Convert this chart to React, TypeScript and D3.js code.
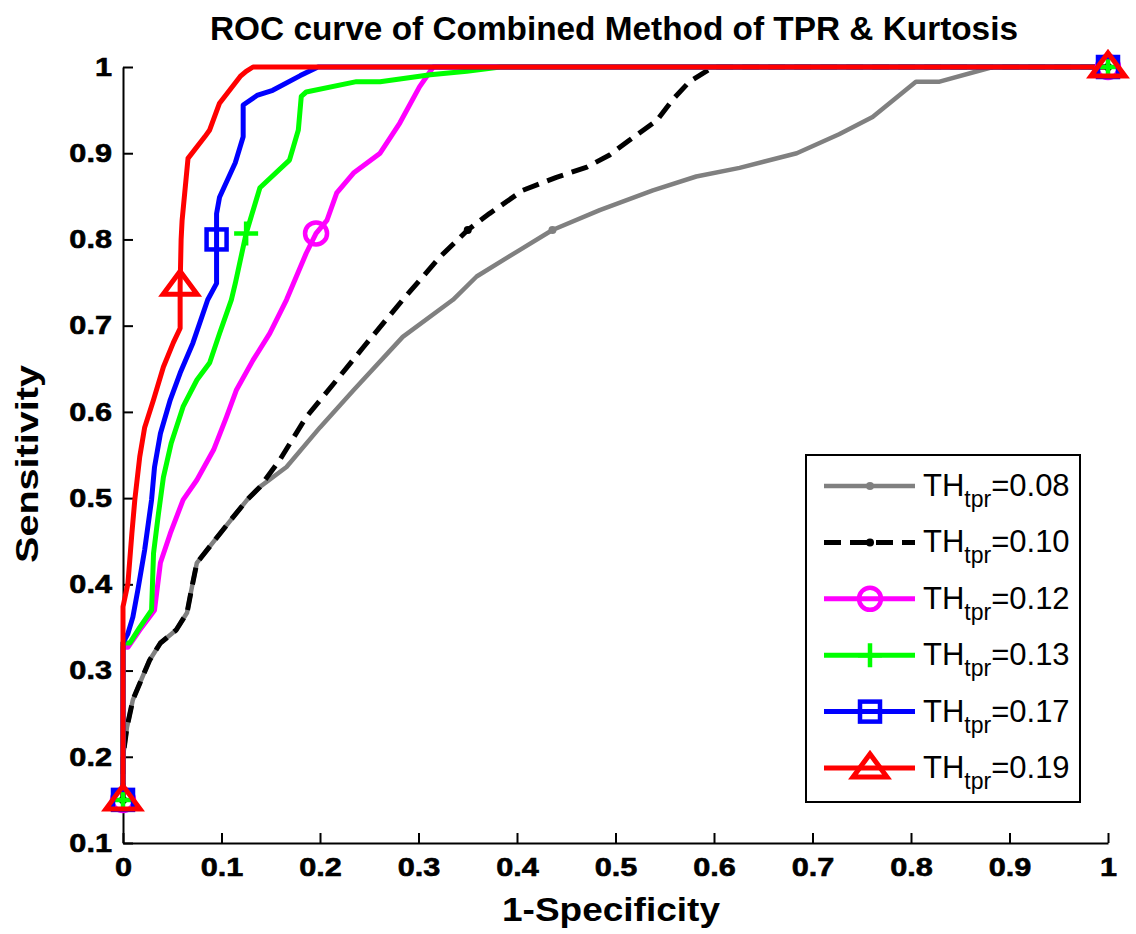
import React, { useEffect, useRef } from 'react';
import * as d3 from 'd3';

// chart data
const xTicks = [0, 0.1, 0.2, 0.3, 0.4, 0.5, 0.6, 0.7, 0.8, 0.9, 1];
const xTickLabels = ['0', '0.1', '0.2', '0.3', '0.4', '0.5', '0.6', '0.7', '0.8', '0.9', '1'];
const yTicks = [0.1, 0.2, 0.3, 0.4, 0.5, 0.6, 0.7, 0.8, 0.9, 1];
const yTickLabels = ['0.1', '0.2', '0.3', '0.4', '0.5', '0.6', '0.7', '0.8', '0.9', '1'];

const thresholds = ['0.08', '0.10', '0.12', '0.13', '0.17', '0.19'];

type Pt = [number, number];

const roc008: Pt[] = [
  [0, 0.15], [0, 0.2], [0.004, 0.234], [0.01, 0.266], [0.017, 0.285], [0.027, 0.312],
  [0.038, 0.332], [0.054, 0.347], [0.065, 0.367], [0.07, 0.397], [0.075, 0.425],
  [0.091, 0.448], [0.109, 0.474], [0.126, 0.498], [0.139, 0.513], [0.166, 0.536],
  [0.2, 0.582], [0.234, 0.625], [0.284, 0.687], [0.335, 0.73], [0.359, 0.757],
  [0.403, 0.788], [0.436, 0.811], [0.484, 0.834], [0.538, 0.857], [0.582, 0.873],
  [0.626, 0.883], [0.684, 0.9], [0.727, 0.922], [0.761, 0.942], [0.805, 0.983],
  [0.829, 0.983], [0.883, 1], [1, 1]
];
const roc010: Pt[] = [
  [0, 0.15], [0, 0.2], [0.004, 0.234], [0.01, 0.266], [0.017, 0.285], [0.027, 0.312],
  [0.038, 0.332], [0.054, 0.347], [0.065, 0.367], [0.07, 0.397], [0.075, 0.425],
  [0.091, 0.448], [0.109, 0.474], [0.126, 0.498], [0.139, 0.513], [0.159, 0.544],
  [0.186, 0.594], [0.217, 0.637], [0.244, 0.675], [0.284, 0.73], [0.322, 0.78],
  [0.35, 0.811], [0.372, 0.83], [0.406, 0.857], [0.44, 0.872], [0.471, 0.884],
  [0.494, 0.898], [0.514, 0.915], [0.542, 0.938], [0.558, 0.962], [0.575, 0.983],
  [0.599, 1], [1, 1]
];
const roc012: Pt[] = [
  [0, 0.15], [0, 0.327], [0.005, 0.327], [0.017, 0.347], [0.032, 0.37], [0.038, 0.425],
  [0.048, 0.459], [0.061, 0.498], [0.075, 0.521], [0.092, 0.556], [0.105, 0.594],
  [0.115, 0.625], [0.132, 0.66], [0.149, 0.691], [0.166, 0.73], [0.186, 0.784],
  [0.196, 0.807], [0.207, 0.822], [0.217, 0.854], [0.234, 0.877], [0.261, 0.9],
  [0.281, 0.935], [0.301, 0.977], [0.315, 1], [1, 1]
];
const roc013: Pt[] = [
  [0, 0.15], [0, 0.332], [0.007, 0.332], [0.017, 0.35], [0.029, 0.37], [0.031, 0.436],
  [0.036, 0.482], [0.041, 0.524], [0.049, 0.564], [0.061, 0.606], [0.075, 0.637],
  [0.088, 0.657], [0.098, 0.691], [0.11, 0.73], [0.114, 0.749], [0.125, 0.807],
  [0.139, 0.86], [0.169, 0.892], [0.178, 0.927], [0.181, 0.966], [0.186, 0.971],
  [0.237, 0.983], [0.261, 0.983], [0.312, 0.991], [0.349, 0.995], [0.383, 1], [1, 1]
];
const roc017: Pt[] = [
  [0, 0.15], [0, 0.332], [0.005, 0.343], [0.01, 0.362], [0.015, 0.393], [0.022, 0.44],
  [0.029, 0.498], [0.032, 0.536], [0.038, 0.575], [0.048, 0.614], [0.058, 0.645],
  [0.071, 0.68], [0.086, 0.73], [0.095, 0.749], [0.095, 0.8], [0.095, 0.83],
  [0.098, 0.849], [0.114, 0.889], [0.122, 0.919], [0.122, 0.956], [0.136, 0.967],
  [0.152, 0.973], [0.18, 0.99], [0.198, 1], [1, 1]
];
const roc019: Pt[] = [
  [0, 0.15], [0, 0.374], [0.005, 0.401], [0.009, 0.459], [0.012, 0.498], [0.017, 0.548],
  [0.022, 0.582], [0.031, 0.614], [0.041, 0.652], [0.051, 0.68], [0.058, 0.697],
  [0.058, 0.747], [0.059, 0.8], [0.06, 0.822], [0.066, 0.894], [0.083, 0.919],
  [0.088, 0.927], [0.098, 0.958], [0.119, 0.989], [0.125, 0.995], [0.132, 1], [1, 1]
];

// points where the marker symbols sit
const marks008: Pt[] = [[0, 0.15], [0.436, 0.811], [1, 1]];
const marks010: Pt[] = [[0, 0.15], [0.35, 0.811], [1, 1]];
const marks012: Pt[] = [[0, 0.15], [0.196, 0.807], [1, 1]];
const marks013: Pt[] = [[0, 0.15], [0.125, 0.807], [1, 1]];
const marks017: Pt[] = [[0, 0.15], [0.095, 0.8], [1, 1]];
const marks019: Pt[] = [[0, 0.15], [0.058, 0.747], [1, 1]];

const curves = [roc008, roc010, roc012, roc013, roc017, roc019];
const curveMarks = [marks008, marks010, marks012, marks013, marks017, marks019];

// styles
const styles = [
  { color: '#808080', dash: null, marker: 'dot', lw: 4.5 },
  { color: '#000000', dash: '17,9', marker: 'dot', lw: 5 },
  { color: '#ff00ff', dash: null, marker: 'circle', lw: 5 },
  { color: '#00ff00', dash: null, marker: 'plus', lw: 5 },
  { color: '#0000ff', dash: null, marker: 'square', lw: 5 },
  { color: '#ff0000', dash: null, marker: 'triangle', lw: 5 }
];

const W = 1136, H = 934;
const margin = { left: 123, right: 28, top: 67, bottom: 91 };
const font = '"Liberation Sans", Arial, sans-serif';

function drawMarker(g: any, type: string, cx: number, cy: number, color: string) {
  if (type === 'dot') {
    g.append('circle').attr('cx', cx).attr('cy', cy).attr('r', 4).attr('fill', color);
  } else if (type === 'circle') {
    g.append('circle').attr('cx', cx).attr('cy', cy).attr('r', 11)
      .attr('fill', 'none').attr('stroke', color).attr('stroke-width', 4.5);
  } else if (type === 'plus') {
    g.append('path')
      .attr('d', `M${cx - 12},${cy}H${cx + 12}M${cx},${cy - 12}V${cy + 12}`)
      .attr('stroke', color).attr('stroke-width', 4.5).attr('fill', 'none');
  } else if (type === 'square') {
    g.append('rect').attr('x', cx - 10).attr('y', cy - 10).attr('width', 20).attr('height', 20)
      .attr('fill', 'none').attr('stroke', color).attr('stroke-width', 4.5);
  } else if (type === 'triangle') {
    g.append('path')
      .attr('d', `M${cx},${cy - 14}L${cx + 17},${cy + 9}L${cx - 17},${cy + 9}Z`)
      .attr('fill', 'none').attr('stroke', color).attr('stroke-width', 5)
      .attr('stroke-linejoin', 'miter');
  }
}

export default function App() {
  const ref = useRef<SVGSVGElement>(null);

  useEffect(() => {
    const svg = d3.select(ref.current);
    svg.selectAll('*').remove();

    const x = d3.scaleLinear().domain([0, 1]).range([margin.left, W - margin.right]);
    const y = d3.scaleLinear().domain([0.1, 1]).range([H - margin.bottom, margin.top]);

    svg.append('rect').attr('width', W).attr('height', H).attr('fill', '#fff');

    // axes (MATLAB style, ticks inside, no box)
    const xAxis = d3.axisBottom(x)
      .tickValues(xTicks)
      .tickFormat((d, i) => xTickLabels[i])
      .tickSizeInner(-10)
      .tickSizeOuter(0)
      .tickPadding(15);
    const gx = svg.append('g')
      .attr('transform', `translate(0,${H - margin.bottom})`)
      .call(xAxis);

    const yAxis = d3.axisLeft(y)
      .tickValues(yTicks)
      .tickFormat((d, i) => yTickLabels[i])
      .tickSizeInner(-10)
      .tickSizeOuter(0)
      .tickPadding(11);
    const gy = svg.append('g')
      .attr('transform', `translate(${margin.left},0)`)
      .call(yAxis);

    [gx, gy].forEach(g => {
      g.select('.domain').attr('stroke', '#000').attr('stroke-width', 2);
      g.selectAll('.tick line').attr('stroke', '#000').attr('stroke-width', 2);
      g.selectAll('.tick text')
        .attr('fill', '#000')
        .attr('font-family', font)
        .attr('font-weight', 'bold')
        .attr('font-size', 26)
        .attr('stroke', '#000')
        .attr('stroke-width', 0.6)
        .each(function (this: any) {
          // the reference digits are set wider than Arial bold
          const w = this.getComputedTextLength();
          d3.select(this).attr('textLength', w * 1.18).attr('lengthAdjust', 'spacingAndGlyphs');
        });
    });

    // curves
    const line = d3.line<Pt>().x(d => x(d[0])).y(d => y(d[1]));
    const plot = svg.append('g');
    curves.forEach((data, i) => {
      const s = styles[i];
      plot.append('path')
        .datum(data)
        .attr('d', line)
        .attr('fill', 'none')
        .attr('stroke', s.color)
        .attr('stroke-width', s.lw)
        .attr('stroke-linejoin', 'round')
        .attr('stroke-dasharray', s.dash);
    });
    curves.forEach((data, i) => {
      const s = styles[i];
      curveMarks[i].forEach(p => drawMarker(plot, s.marker, x(p[0]), y(p[1]), s.color));
    });

    // title and axis labels
    svg.append('text')
      .attr('x', 614).attr('y', 40)
      .attr('text-anchor', 'middle')
      .attr('font-family', font).attr('font-weight', 'bold').attr('font-size', 33)
      .attr('textLength', 808).attr('lengthAdjust', 'spacingAndGlyphs')
      .text('ROC curve of Combined Method of TPR & Kurtosis');

    svg.append('text')
      .attr('x', 611).attr('y', 921)
      .attr('text-anchor', 'middle')
      .attr('font-family', font).attr('font-weight', 'bold').attr('font-size', 33)
      .attr('textLength', 218).attr('lengthAdjust', 'spacingAndGlyphs')
      .text('1-Specificity');

    svg.append('text')
      .attr('transform', `translate(38,464) rotate(-90)`)
      .attr('text-anchor', 'middle')
      .attr('font-family', font).attr('font-weight', 'bold').attr('font-size', 31)
      .attr('textLength', 198).attr('lengthAdjust', 'spacingAndGlyphs')
      .text('Sensitivity');

    // legend
    const legend = svg.append('g');
    legend.append('rect')
      .attr('x', 806).attr('y', 455).attr('width', 274).attr('height', 347)
      .attr('fill', '#fff').attr('stroke', '#000').attr('stroke-width', 2);

    thresholds.forEach((t, i) => {
      const s = styles[i];
      const ly = 486 + i * 56.4;
      legend.append('line')
        .attr('x1', 824).attr('x2', 915).attr('y1', ly).attr('y2', ly)
        .attr('stroke', s.color).attr('stroke-width', s.lw)
        .attr('stroke-dasharray', s.dash);
      drawMarker(legend, s.marker, 870, ly, s.color);

      const txt = legend.append('text')
        .attr('x', 923).attr('y', ly + 10)
        .attr('font-family', font).attr('font-size', 31).attr('fill', '#000');
      txt.append('tspan').text('TH');
      txt.append('tspan').attr('font-size', 23).attr('dy', 11).text('tpr');
      txt.append('tspan').attr('dy', -11).text('=' + t);
    });
  }, []);

  return (
    <svg
      ref={ref}
      width={W}
      height={H}
      style={{ position: 'absolute', left: 0, top: 0, display: 'block' }}
    />
  );
}
